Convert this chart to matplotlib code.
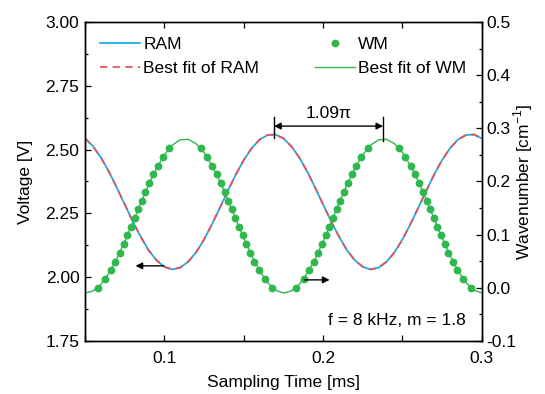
import numpy as np
import matplotlib
matplotlib.use('Agg')
import matplotlib.pyplot as plt
from matplotlib.ticker import MultipleLocator

plt.rcParams['font.family'] = ['Liberation Sans', 'DejaVu Sans']
plt.rcParams['mathtext.fontset'] = 'custom'
plt.rcParams['mathtext.rm'] = 'Liberation Sans'

FS = 12.5

# sampling time grid of the curves [ms]
t_curve = [0.050, 0.055, 0.060, 0.065, 0.070, 0.075, 0.080, 0.085, 0.090, 0.095,
           0.100, 0.105, 0.110, 0.115, 0.120, 0.125, 0.130, 0.135, 0.140, 0.145,
           0.150, 0.155, 0.160, 0.165, 0.170, 0.175, 0.180, 0.185, 0.190, 0.195,
           0.200, 0.205, 0.210, 0.215, 0.220, 0.225, 0.230, 0.235, 0.240, 0.245,
           0.250, 0.255, 0.260, 0.265, 0.270, 0.275, 0.280, 0.285, 0.290, 0.295,
           0.300]

# RAM voltage [V]
ram = [2.544, 2.513, 2.469, 2.414, 2.351, 2.285, 2.219, 2.159, 2.106, 2.066,
       2.040, 2.030, 2.037, 2.060, 2.097, 2.147, 2.207, 2.272, 2.338, 2.402,
       2.459, 2.505, 2.539, 2.557, 2.559, 2.544, 2.513, 2.469, 2.414, 2.351,
       2.285, 2.219, 2.159, 2.106, 2.066, 2.040, 2.030, 2.037, 2.060, 2.097,
       2.147, 2.207, 2.272, 2.338, 2.402, 2.459, 2.505, 2.539, 2.557, 2.559,
       2.544]
ram_fit = ram

# best fit of WM [cm^-1]
wm_fit = [-0.0100, -0.0063, 0.0062, 0.0269, 0.0543, 0.0867, 0.1223, 0.1586, 0.1934, 0.2245,
          0.2501, 0.2684, 0.2784, 0.2793, 0.2711, 0.2544, 0.2303, 0.2000, 0.1657, 0.1295,
          0.0937, 0.0604, 0.0318, 0.0097, -0.0045, -0.0100, -0.0063, 0.0062, 0.0269, 0.0543,
          0.0867, 0.1223, 0.1586, 0.1934, 0.2245, 0.2501, 0.2684, 0.2784, 0.2793, 0.2711,
          0.2544, 0.2303, 0.2000, 0.1657, 0.1295, 0.0937, 0.0604, 0.0318, 0.0097, -0.0045,
          -0.0100]

# WM measured points
wm_t = [0.0579, 0.0627, 0.0662, 0.0692, 0.0718, 0.0743, 0.0767, 0.0790, 0.0812, 0.0835,
        0.0857, 0.0881, 0.0905, 0.0931, 0.0959, 0.0991, 0.1031,
        0.1229, 0.1269, 0.1301, 0.1329, 0.1355, 0.1379, 0.1402, 0.1425, 0.1448, 0.1470,
        0.1493, 0.1516, 0.1540, 0.1567, 0.1596, 0.1633, 0.1681,
        0.1829, 0.1877, 0.1912, 0.1942, 0.1968, 0.1993, 0.2017, 0.2040, 0.2062, 0.2085,
        0.2107, 0.2131, 0.2155, 0.2181, 0.2209, 0.2241, 0.2281,
        0.2479, 0.2519, 0.2551, 0.2579, 0.2605, 0.2629, 0.2652, 0.2675, 0.2698, 0.2720,
        0.2743, 0.2766, 0.2790, 0.2817, 0.2846, 0.2883, 0.2931]
wm_up = [0.0, 0.0164, 0.0328, 0.0492, 0.0656, 0.0820, 0.0984, 0.1148, 0.1312, 0.1476,
         0.1640, 0.1804, 0.1968, 0.2132, 0.2296, 0.2460, 0.2624]
wm_pts = wm_up + wm_up[::-1] + wm_up + wm_up[::-1]

c_ram = '#19aee6'
c_fit = '#e8505f'
c_wm = '#2fb84e'

fig = plt.figure(figsize=(5.45, 3.94), dpi=100)
ax = fig.add_axes([0.156, 0.135, 0.728, 0.809])
ax2 = ax.twinx()

l1, = ax.plot(t_curve, ram, color=c_ram, lw=1.3, label='RAM')
l2, = ax.plot(t_curve, ram_fit, color=c_fit, lw=1.3, ls=(0, (4, 3)), label='Best fit of RAM')
l4, = ax2.plot(t_curve, wm_fit, color=c_wm, lw=1.0, label='Best fit of WM')
l3, = ax2.plot(wm_t, wm_pts, 'o', color=c_wm, ms=4.6, mec=c_wm, label='WM')

ax.xaxis.set_minor_locator(MultipleLocator(0.05))
ax.yaxis.set_minor_locator(MultipleLocator(0.125))
ax2.yaxis.set_minor_locator(MultipleLocator(0.05))
yt = [1.75, 2.0, 2.25, 2.5, 2.75, 3.0]
ax.set_yticks(yt)
ax.set_yticklabels(['{:.2f}'.format(v) for v in yt])
yt2 = [-0.1, 0.0, 0.1, 0.2, 0.3, 0.4, 0.5]
ax2.set_yticks(yt2)
ax2.set_yticklabels(['{:.1f}'.format(v) for v in yt2])
ax.set_xticks([0.1, 0.2, 0.3])
ax.set_xticklabels(['0.1', '0.2', '0.3'])
ax.set_xlim(0.05, 0.3)
ax.set_ylim(1.75, 3.0)
ax2.set_ylim(-0.1, 0.5)

ax.tick_params(which='both', direction='in', top=True, right=False, labelsize=FS, width=0.9)
ax.tick_params(which='major', length=4.5, pad=4)
ax.tick_params(which='minor', length=2.5)
ax.tick_params(axis='x', which='major', pad=7)
ax.tick_params(axis='x', which='minor', top=True, length=4.5)
ax2.tick_params(which='both', direction='in', labelsize=FS, width=0.9)
ax2.tick_params(which='major', length=4.5, pad=3)
ax2.tick_params(which='minor', length=2.5)
for a in (ax, ax2):
    for s in a.spines.values():
        s.set_linewidth(1.0)

ax.set_xlabel('Sampling Time [ms]', fontsize=FS, labelpad=7)
ax.set_ylabel('Voltage [V]', fontsize=FS, labelpad=9)
ax2.set_ylabel('Wavenumber [cm$^{-1}$]', fontsize=FS, labelpad=-3)

ax2.legend([l1, l2, l3, l4], ['RAM', 'Best fit of RAM', 'WM', 'Best fit of WM'],
           ncol=2, loc='upper left', bbox_to_anchor=(0.02, 0.975), frameon=False,
           fontsize=FS, handlelength=2.3, columnspacing=3.2, handletextpad=0.2,
           labelspacing=0.5, borderaxespad=0)

# phase shift marker
tr = ax.transData
ax2.plot([0.1691, 0.1691], [2.545, 2.628], color='k', lw=1, transform=tr)
ax2.plot([0.2379, 0.2379], [2.535, 2.628], color='k', lw=1, transform=tr)
ax2.annotate('', xy=(0.1691, 2.592), xytext=(0.2379, 2.592), xycoords=tr, textcoords=tr,
             arrowprops=dict(arrowstyle='<|-|>', color='k', lw=1, shrinkA=0, shrinkB=0,
                             mutation_scale=10))
ax2.text(0.2035, 2.612, '1.09\u03c0', transform=tr, ha='center', va='bottom', fontsize=FS)

# axis arrows
ax2.annotate('', xy=(0.0818, 2.044), xytext=(0.0997, 2.044), xycoords=tr, textcoords=tr,
             arrowprops=dict(arrowstyle='-|>', color='k', lw=1, shrinkA=0, shrinkB=0,
                             mutation_scale=10))
ax2.annotate('', xy=(0.2041, 1.989), xytext=(0.1882, 1.989), xycoords=tr, textcoords=tr,
             arrowprops=dict(arrowstyle='-|>', color='k', lw=1, shrinkA=0, shrinkB=0,
                             mutation_scale=10))

ax2.text(0.96, 0.04, 'f = 8 kHz, m = 1.8', transform=ax.transAxes, ha='right', va='bottom',
         fontsize=FS)

fig.savefig('out.png', dpi=100)
